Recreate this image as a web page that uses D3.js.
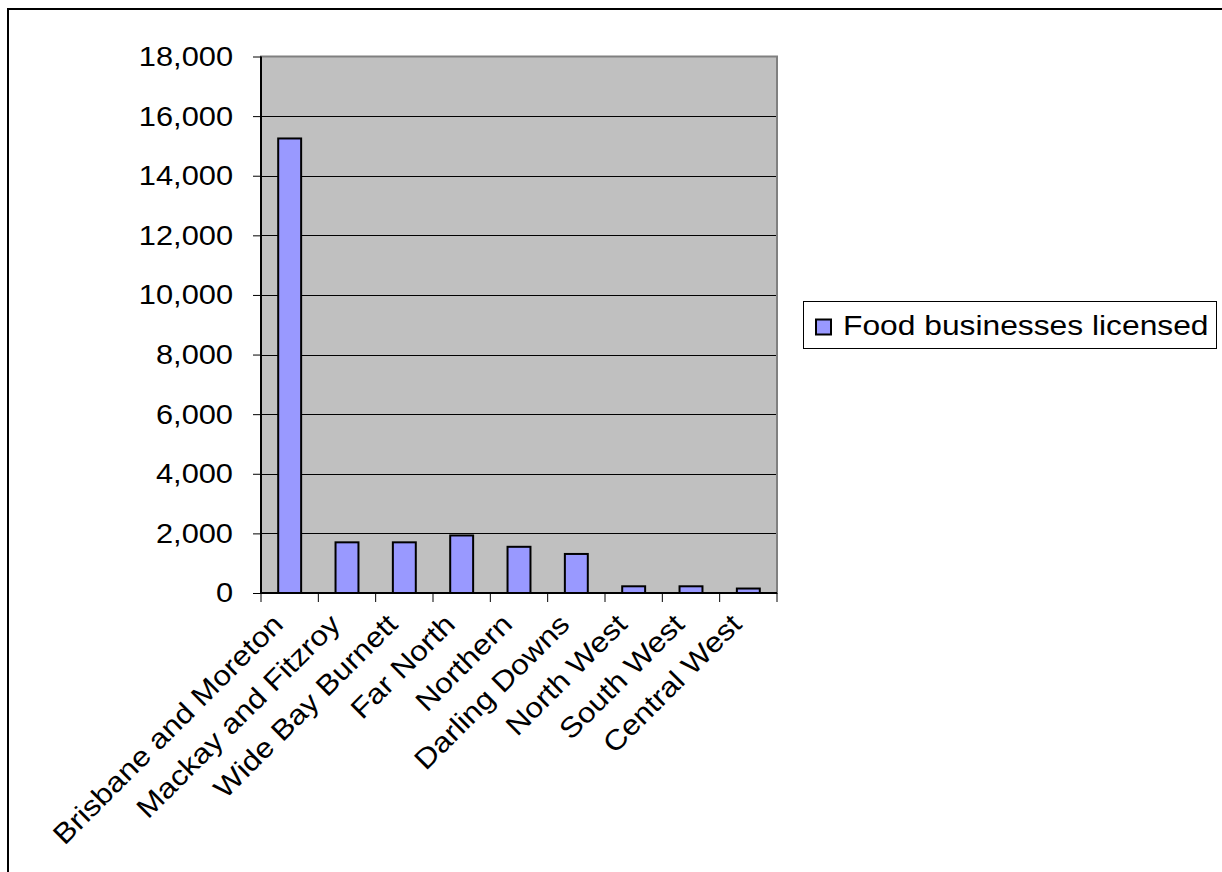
<!DOCTYPE html>
<html><head><meta charset="utf-8">
<script src="https://cdn.jsdelivr.net/npm/d3@7"></script>
<style>body{margin:0;background:#fff}svg{display:block}text{font-family:"Liberation Sans",Arial,sans-serif;fill:#000}</style>
</head><body>
<svg id="c" width="1222" height="872"></svg>
<script>
const categories = ["Brisbane and Moreton","Mackay and Fitzroy","Wide Bay Burnett","Far North","Northern","Darling Downs","North West","South West","Central West"];
const values = [15250, 1700, 1700, 1930, 1550, 1310, 225, 225, 150];
const yTicks = [0,2000,4000,6000,8000,10000,12000,14000,16000,18000];
const seriesName = "Food businesses licensed";

const FS = 28, SX = 1.1;
const svg = d3.select("#c");
svg.append("rect").attr("x",8).attr("y",9).attr("width",1240).attr("height",900)
  .attr("fill","#fff").attr("stroke","#000").attr("stroke-width",2);

const L=261, R=777, T=56.5, B=593;
const x = d3.scaleBand().domain(categories).range([L,R]).paddingInner(0.6).paddingOuter(0.3);
const xb = d3.scaleBand().domain(categories).range([L,R]);
const y = d3.scaleLinear().domain([0,18000]).range([B,T]);

svg.append("rect").attr("x",L).attr("y",T).attr("width",R-L).attr("height",B-T)
  .attr("fill","#c0c0c0").attr("stroke","#808080").attr("stroke-width",2);

svg.append("g").selectAll("line").data(yTicks.slice(1,-1)).join("line")
  .attr("x1",L).attr("x2",R-1).attr("y1",d=>Math.round(y(d))+0.5).attr("y2",d=>Math.round(y(d))+0.5)
  .attr("stroke","#000").attr("stroke-width",1);

svg.append("g").selectAll("rect").data(values).join("rect")
  .attr("x",(d,i)=>x(categories[i])).attr("width",x.bandwidth())
  .attr("y",d=>y(d)).attr("height",d=>B-y(d))
  .attr("fill","#9999ff").attr("stroke","#000").attr("stroke-width",2);

// y axis
const ya = svg.append("g").attr("transform",`translate(${L},0)`)
  .call(d3.axisLeft(y).tickValues(yTicks).tickSize(8).tickPadding(20).tickFormat(d3.format(",")));
ya.select(".domain").attr("stroke","#000").attr("stroke-width",2).attr("d",`M-0,${T}V${B}`);
ya.selectAll(".tick line").attr("stroke","#000");
ya.selectAll(".tick text").attr("font-size",FS).attr("font-family","Liberation Sans, Arial")
  .attr("transform",function(){const xx=+d3.select(this).attr("x");return `translate(${xx},0) scale(${SX},1) translate(${-xx},0)`;});

// x axis
const xa = svg.append("g").attr("transform",`translate(0,${B})`);
xa.append("line").attr("x1",L).attr("x2",R).attr("y1",0).attr("y2",0).attr("stroke","#000").attr("stroke-width",2);
const bounds = categories.map(c=>xb(c)).concat([R]);
xa.selectAll("line.t").data(bounds).join("line").attr("class","t")
  .attr("x1",d=>d).attr("x2",d=>d).attr("y1",0).attr("y2",9).attr("stroke","#000");
xa.selectAll("text").data(categories).join("text")
  .attr("transform",d=>`translate(${xb(d)+xb.bandwidth()/2-12},${26}) rotate(-45) scale(1.13,1)`)
  .attr("text-anchor","end").attr("dy","0.35em").attr("font-size",FS).text(d=>d);

// legend
const lg = svg.append("g").attr("transform","translate(803.5,301.5)");
lg.append("rect").attr("width",413).attr("height",47).attr("fill","#fff").attr("stroke","#000").attr("stroke-width",1);
lg.append("rect").attr("x",12.5).attr("y",18).attr("width",15).attr("height",15).attr("fill","#9999ff").attr("stroke","#000").attr("stroke-width",2);
lg.append("text").attr("transform",`translate(39.5,33.5) scale(1.135,1)`).attr("font-size",FS).text(seriesName);
</script>
</body></html>
